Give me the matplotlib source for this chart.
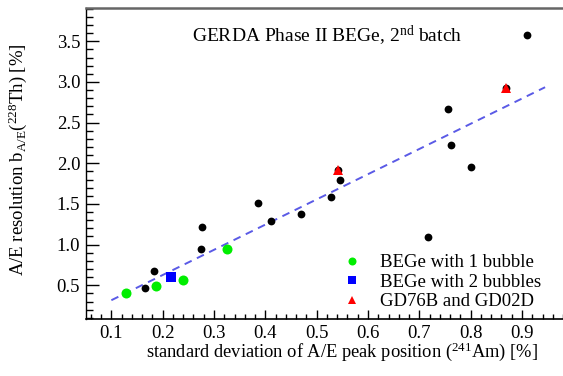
import matplotlib
matplotlib.use("Agg")
import matplotlib.pyplot as plt
import numpy as np
from matplotlib.ticker import MultipleLocator

plt.rcParams['font.family'] = ['Liberation Serif', 'DejaVu Serif']
plt.rcParams['mathtext.fontset'] = 'custom'
plt.rcParams['mathtext.rm'] = 'Liberation Serif'
plt.rcParams['mathtext.it'] = 'Liberation Serif:italic'

# data
black_x = [0.910, 0.755, 0.762, 0.800, 0.5455, 0.527, 0.469, 0.717, 0.385, 0.411,
           0.277, 0.274, 0.183, 0.165, 0.541, 0.869]
black_y = [3.58, 2.67, 2.22, 1.96, 1.79, 1.585, 1.38, 1.09, 1.51, 1.29,
           1.22, 0.94, 0.68, 0.47, 1.918, 2.93]
one_bubble_x = [0.128, 0.186, 0.239, 0.325]
one_bubble_y = [0.40, 0.49, 0.56, 0.94]
two_bubble_x = [0.216]
two_bubble_y = [0.60]
gd_x = [0.541, 0.869]
gd_y = [1.918, 2.93]
fit_slope = 3.10
fit_intercept = 0.006
fit_range = [0.1, 0.945]

labels = ["BEGe with 1 bubble", "BEGe with 2 bubbles", "GD76B and GD02D"]

W, H = 563, 376
fig = plt.figure(figsize=(W / 100, H / 100), dpi=100)
ax_left, ax_bottom_px, ax_top_px = 85.7, 319.0, 8.3
xlim = (0.05, 1.0)
ylim = (0.085, 3.906)
ppu = 513.3
ax_w = (xlim[1] - xlim[0]) * ppu
ax = fig.add_axes([ax_left / W, (H - ax_bottom_px) / H, ax_w / W, (ax_bottom_px - ax_top_px) / H])

fx = np.array(fit_range)
ax.plot(fx, fit_slope * fx + fit_intercept, color='#5a5ae6', lw=1.4, dashes=(4.0, 3.0), zorder=2)

ax.plot(black_x, black_y, 'o', color='black', ms=5.6, mew=0, zorder=3)
h1, = ax.plot(one_bubble_x, one_bubble_y, 'o', color='#00ee00', ms=7.2, mew=0, zorder=4)
h2, = ax.plot(two_bubble_x, two_bubble_y, 's', color='#0000ff', ms=6.6, mew=0, zorder=4)
h3, = ax.plot(gd_x, gd_y, '^', color='#ff0000', ms=7.2, mew=0, zorder=4)

ax.set_xlim(*xlim)
ax.set_ylim(*ylim)
ax.xaxis.set_minor_locator(MultipleLocator(0.02))
ax.yaxis.set_minor_locator(MultipleLocator(0.1))
xt = np.arange(0.1, 0.95, 0.1)
yt = np.arange(0.5, 3.6, 0.5)
ax.set_xticks(xt)
ax.set_xticklabels([f"{v:.1f}" for v in xt])
ax.set_yticks(yt)
ax.set_yticklabels([f"{v:.1f}" for v in yt])

ax.tick_params(axis='both', which='both', direction='in', labelsize=13.5,
               top=False, right=False, color='black', width=1.0)
ax.tick_params(axis='y', which='major', length=9.5, pad=4)
ax.tick_params(axis='y', which='minor', length=5)
ax.tick_params(axis='x', which='major', length=6.5, pad=4)
ax.tick_params(axis='x', which='minor', length=3.6)

ax.spines['right'].set_visible(False)
ax.spines['top'].set_color('#666666')
ax.spines['top'].set_linewidth(1.8)
ax.spines['left'].set_linewidth(1.0)
ax.spines['bottom'].set_linewidth(1.2)

fig.text(191.7 / W, (H - 41.7) / H, r"GERDA Phase II BEGe, 2$^{\mathrm{nd}}$ batch",
         ha='left', va='baseline', fontsize=14)
fig.text(342 / W, (H - 357) / H,
         r"standard deviation of A/E peak position ($^{241}$Am) [%]",
         ha='center', va='baseline', fontsize=13.3)
fig.text(18 / W, (H - 160) / H,
         r"A/E resolution b$_{\mathrm{A/E}}$($^{228}$Th) [%]",
         ha='center', va='center', rotation=90, fontsize=13.5)

leg = ax.legend([h1, h2, h3], labels, loc='upper left',
                bbox_to_anchor=(342.5 / W, (H - 254) / H), bbox_transform=fig.transFigure,
                frameon=False, fontsize=13.5, handlelength=1.0, handletextpad=1.0,
                labelspacing=0.13, borderpad=0, borderaxespad=0, markerscale=0.8)

fig.savefig("out.png", dpi=100)
